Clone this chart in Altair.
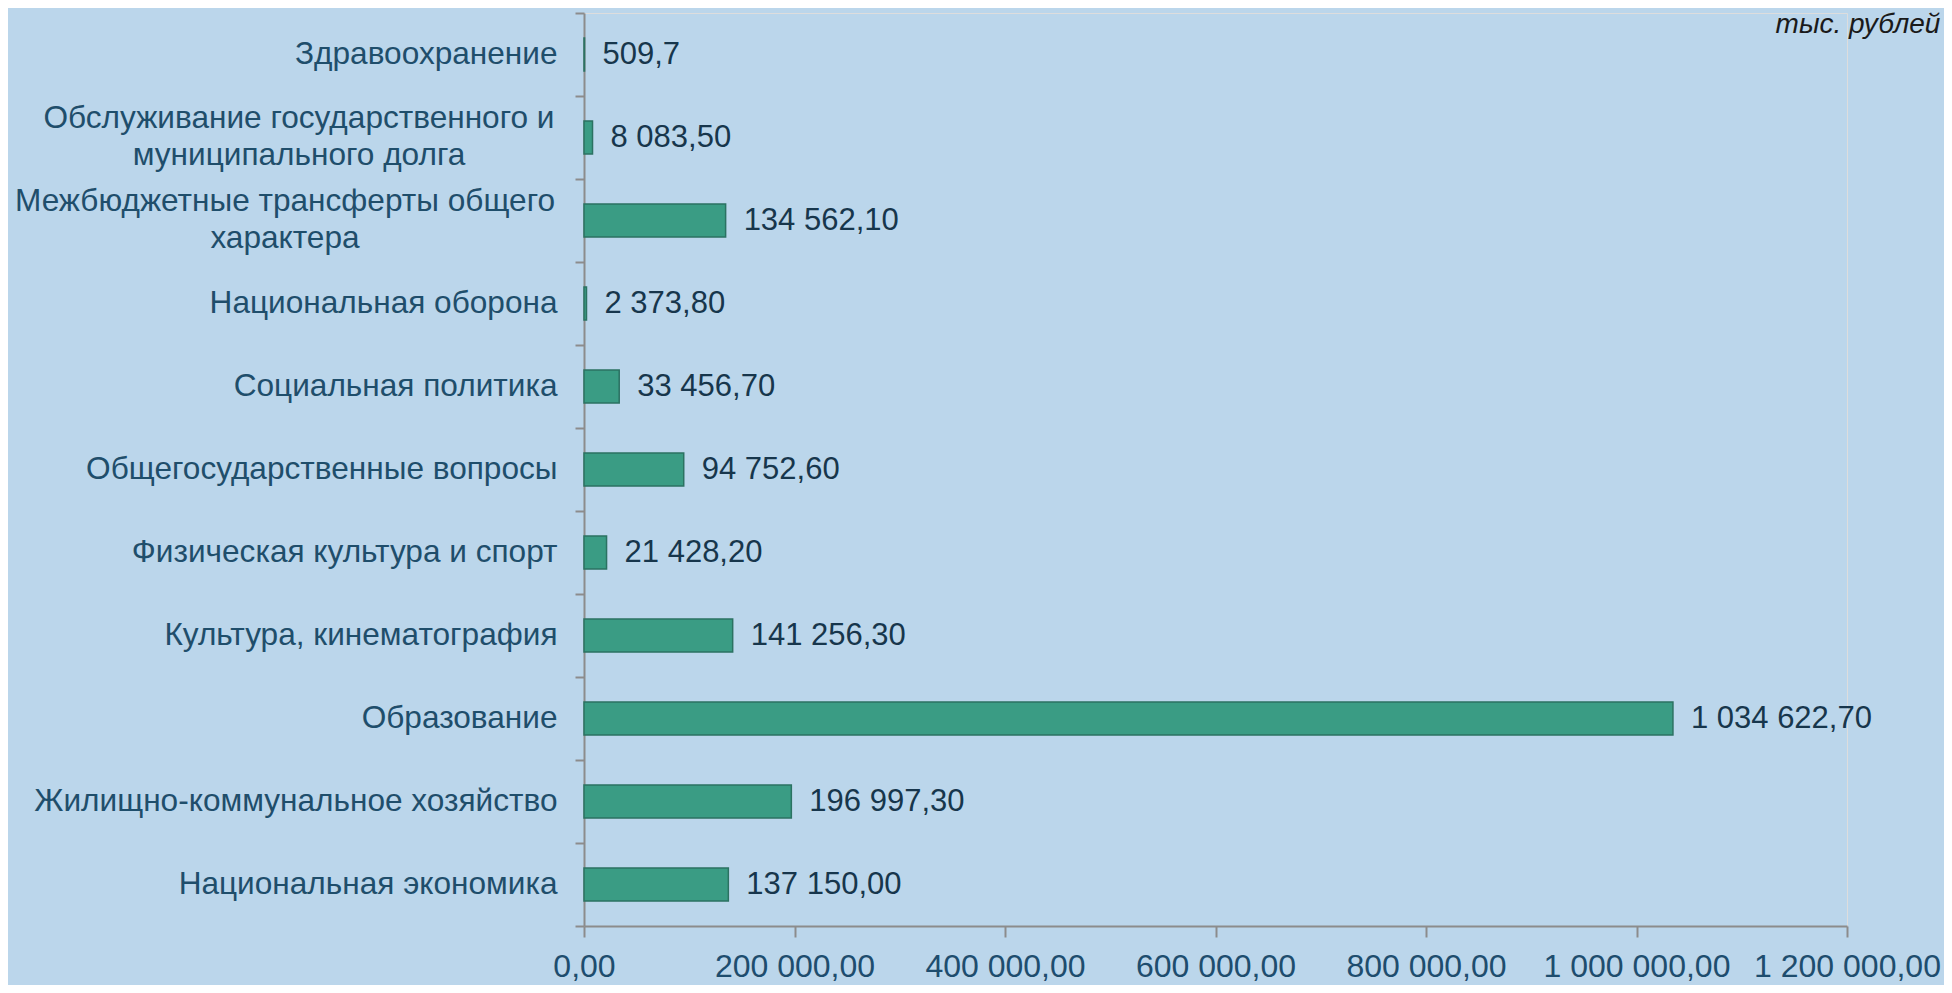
import altair as alt
import pandas as pd

# ---- data (top to bottom) ----
categories = [
    "Здравоохранение",
    "Обслуживание государственного и\nмуниципального долга",
    "Межбюджетные трансферты общего\nхарактера",
    "Национальная оборона",
    "Социальная политика",
    "Общегосударственные вопросы",
    "Физическая культура и спорт",
    "Культура, кинематография",
    "Образование",
    "Жилищно-коммунальное хозяйство",
    "Национальная экономика",
]
values = [509.7, 8083.5, 134562.1, 2373.8, 33456.7, 94752.6,
          21428.2, 141256.3, 1034622.7, 196997.3, 137150.0]
value_labels = ["509,7", "8 083,50", "134 562,10", "2 373,80", "33 456,70",
                "94 752,60", "21 428,20", "141 256,30", "1 034 622,70",
                "196 997,30", "137 150,00"]
x_ticks = [0, 200000, 400000, 600000, 800000, 1000000, 1200000]
unit_label = "тыс. рублей"

df = pd.DataFrame({"cat": categories, "val": values, "lab": value_labels})

FONT = "Liberation Sans"
BG = "#BBD6EB"
AXIS_GRAY = "#8C8C8C"
CAT_COLOR = "#1F4E6B"
CAT_SIZE = 31.6

y_enc = alt.Y(
    "cat:N",
    sort=categories,
    title=None,
    scale=alt.Scale(paddingInner=0, paddingOuter=0),
    axis=alt.Axis(
        # two-line labels are drawn by their own centred text marks below
        labelExpr="indexof(datum.label, '\\n') >= 0 ? '' : datum.label",
        labelFont=FONT,
        labelFontSize=CAT_SIZE,
        labelColor=CAT_COLOR,
        labelBaseline="middle",
        labelAlign="right",
        labelPadding=18,
        labelLimit=0,
        tickBand="extent",
        tickSize=9,
        tickWidth=2,
        tickColor=AXIS_GRAY,
        domainColor=AXIS_GRAY,
        domainWidth=2,
        grid=False,
    ),
)

x_enc = alt.X(
    "val:Q",
    title=None,
    scale=alt.Scale(domain=[0, 1200000], nice=False, zero=True),
    axis=alt.Axis(
        values=x_ticks,
        format=",.2f",
        labelFont=FONT,
        labelFontSize=32,
        labelColor="#1E4D6E",
        labelPadding=14,
        labelOverlap=False,
        labelFlush=False,
        labelLimit=0,
        tickSize=11,
        tickWidth=2,
        tickColor=AXIS_GRAY,
        domainColor=AXIS_GRAY,
        domainWidth=2,
        grid=False,
    ),
)

base = alt.Chart(df).encode(x=x_enc, y=y_enc)

bars = base.mark_bar(
    size=33,
    fill="#3A9C84",
    stroke="#2B7262",
    strokeWidth=1.5,
)

labels = base.mark_text(
    align="left",
    baseline="middle",
    dx=18,
    font=FONT,
    fontSize=31,
    color="#17364C",
).encode(text="lab:N")


def two_line_label(prefix, centre_x):
    return alt.Chart(df).transform_filter(
        f"indexof(datum.cat, '{prefix}') == 0"
    ).mark_text(
        align="center",
        baseline="middle",
        lineBreak="\n",
        lineHeight=37,
        dy=-18.5,
        font=FONT,
        fontSize=CAT_SIZE,
        color=CAT_COLOR,
    ).encode(
        x=alt.value(centre_x),
        y=alt.Y("cat:N", sort=categories),
        text="cat:N",
    )


debt_label = two_line_label("Обслуживание", -285)
transfer_label = two_line_label("Межбюджетные", -299)

chart = alt.layer(bars, labels, debt_label, transfer_label).properties(
    width=1263,
    height=913,
    autosize=alt.AutoSizeParams(type="none"),
    padding={"left": 576, "top": 5, "right": 97, "bottom": 59},
    background=BG,
    title=alt.TitleParams(
        unit_label,
        anchor="end",
        font=FONT,
        fontSize=28,
        fontStyle="italic",
        fontWeight="normal",
        color="#1A1A1A",
        offset=0,
        dy=42,
    ),
).configure_view(
    stroke="transparent",
    strokeWidth=0,
).configure(
    locale={"number": {"decimal": ",", "thousands": "\u00a0",
                       "grouping": [3], "currency": ["", ""]}},
)

chart.save("out.html", embed_options={"renderer": "svg", "actions": False})
